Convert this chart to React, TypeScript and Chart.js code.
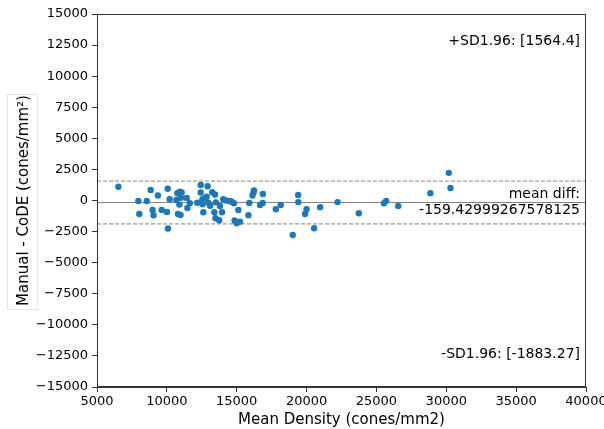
import React, { useEffect, useRef } from "react";
import { Chart, registerables } from "chart.js";

Chart.register(...registerables);

const meanDensity = [
  6530, 7960, 8030, 8560, 8840, 8980, 9050, 9360, 9630, 10000,
  10060, 10080, 10200, 10680, 10750, 10800, 10940, 10980, 11060, 11010,
  10900, 11420, 11470, 11640, 12180, 12420, 12420, 12540, 12610, 12920,
  12850, 12970, 13100, 13250, 13450, 13400, 13480, 13500, 13750, 13950,
  13800, 14040, 14250, 14500, 14640, 14800, 15120, 14850, 15000, 15240,
  15840, 15900, 16130, 16200, 16240, 16670, 16860, 16870, 17800, 18150,
  19010, 19400, 19410, 20000, 19890, 20540, 20970, 22220, 23740, 25540,
  25700, 26560, 28860, 30180, 30300, 12560, 12680,
];
const difference = [
  1100, -40, -1086, -40, 845, -765, -1190, 400, -765, -925,
  950, -2250, 110, 40, 580, -1086, 710, -1170, 640, 225,
  -330, 210, -600, -225, -177, 1247, 640, 97, -950, 1150,
  306, -177, -420, 660, 480, -950, -1432, -150, -1590, -950,
  -442, 110, 0, -40, -97, -225, -765, -1600, -1830, -1700,
  -1180, -200, 400, 630, 800, -370, -200, 523, -700, -362,
  -2780, 442, -130, -700, -1086, -2237, -535, -130, -1020, -225,
  -30, -442, 590, 2225, 1006, -300, 177,
];
const meanDiff = -159.42999267578125;
const upperSD = 1564.4;
const lowerSD = -1883.27;
const xRange = [5000, 40000];
const yRange = [-15000, 15000];
const xTickStep = 5000;
const yTickStep = 2500;
const upperLabel = "+SD1.96: [1564.4]";
const lowerLabel = "-SD1.96: [-1883.27]";
const meanLabel1 = "mean diff:";
const meanLabel2 = "-159.42999267578125";
const xTitle = "Mean Density (cones/mm2)";
const yTitle = "Manual - CoDE (cones/mm²)";

const FONT = "'DejaVu Sans', sans-serif";

const fmt = (v: number) => (v < 0 ? "\u2212" + String(Math.abs(v)) : String(v));

const overlay = {
  id: "overlay",
  afterDraw(chart: any) {
    const { ctx, chartArea } = chart;
    const { left, right, top, bottom } = chartArea;
    ctx.save();
    // frame (spines)
    ctx.strokeStyle = "#333";
    ctx.lineWidth = 1;
    ctx.strokeRect(left + 0.5, top + 0.5, right - left - 1, bottom - top - 1);
    // texts
    ctx.fillStyle = "#000";
    ctx.font = `14px ${FONT}`;
    ctx.textAlign = "right";
    ctx.textBaseline = "middle";
    const h = bottom - top;
    const tx = right - 6;
    ctx.fillText(upperLabel, tx, top + h * 0.074);
    ctx.fillText(lowerLabel, tx, bottom - h * 0.088);
    const y = chart.scales.y;
    ctx.textBaseline = "alphabetic";
    ctx.fillText(meanLabel1, tx, y.getPixelForValue(meanDiff) - 4);
    ctx.textBaseline = "top";
    ctx.fillText(meanLabel2, tx, y.getPixelForValue(meanDiff) + 1);
    // faint box around y title
    ctx.strokeStyle = "#e6e6e6";
    ctx.lineWidth = 1;
    ctx.strokeRect(7.5, 94.5, 30, 215);
    ctx.restore();
  },
};

export default function App() {
  const ref = useRef<HTMLCanvasElement | null>(null);
  useEffect(() => {
    document.body.style.margin = "0";
    const canvas = ref.current!;
    const hline = (v: number, dash: number[]) => ({
      type: "line" as const,
      data: [
        { x: xRange[0], y: v },
        { x: xRange[1], y: v },
      ],
      borderColor: "#808080",
      borderWidth: 1,
      borderDash: dash,
      pointRadius: 0,
      fill: false,
      order: 2,
    });
    const chart = new Chart(canvas, {
      type: "scatter",
      data: {
        datasets: [
          {
            type: "scatter",
            data: meanDensity.map((x, i) => ({ x, y: difference[i] })),
            backgroundColor: "#1f77b4",
            borderColor: "#1f77b4",
            pointRadius: 3.2,
            borderWidth: 0,
            order: 1,
          } as any,
          hline(meanDiff, []),
          hline(upperSD, [4, 2]),
          hline(lowerSD, [4, 2]),
        ],
      },
      options: {
        animation: false,
        responsive: false,
        layout: { padding: { left: 0, top: 14, right: 18, bottom: 0 } },
        plugins: { legend: { display: false }, tooltip: { enabled: false } },
        scales: {
          x: {
            type: "linear",
            min: xRange[0],
            max: xRange[1],
            ticks: {
              stepSize: xTickStep,
              color: "#000",
              font: { family: FONT, size: 13 },
              padding: 2,
              maxRotation: 0,
              callback: (v: any) => fmt(Number(v)),
            },
            grid: { drawOnChartArea: false, tickLength: 5, color: "#333" },
            border: { color: "#333" },
            title: {
              display: true,
              text: xTitle,
              color: "#000",
              font: { family: FONT, size: 15 },
              padding: { top: 0, bottom: 0 },
            },
            afterFit: (s: any) => {
              s.height = 42;
              s.paddingLeft = 0;
              s.paddingRight = 0;
            },
          },
          y: {
            type: "linear",
            min: yRange[0],
            max: yRange[1],
            ticks: {
              stepSize: yTickStep,
              color: "#000",
              font: { family: FONT, size: 13 },
              padding: 4,
              callback: (v: any) => fmt(Number(v)),
            },
            grid: { drawOnChartArea: false, tickLength: 5, color: "#333" },
            border: { color: "#333" },
            title: {
              display: true,
              text: yTitle,
              color: "#000",
              font: { family: FONT, size: 15 },
              padding: { top: 15, bottom: 0 },
            },
            afterFit: (s: any) => {
              s.width = 97;
              s.paddingTop = 0;
              s.paddingBottom = 0;
            },
          },
        },
      },
      plugins: [overlay],
    } as any);
    return () => chart.destroy();
  }, []);
  return <canvas ref={ref} width={604} height={429} style={{ display: "block" }} />;
}
